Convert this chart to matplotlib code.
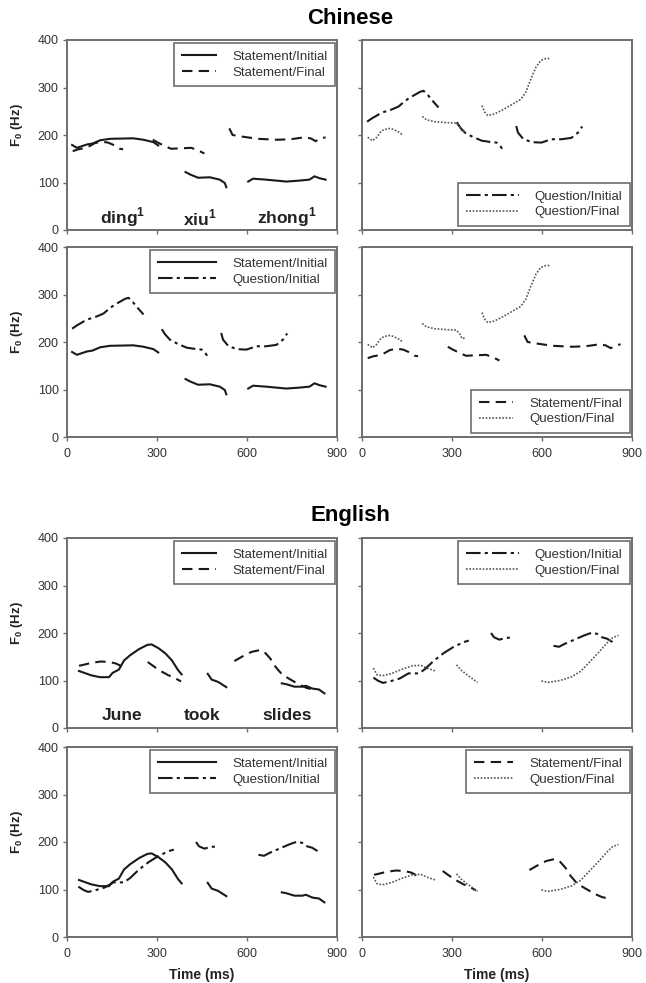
import numpy as np
import matplotlib
matplotlib.use('Agg')
import matplotlib.pyplot as plt

## fonts (Arial-like) incl. mathtext for F0 and superscripts
plt.rcParams['font.family'] = ['Liberation Sans', 'DejaVu Sans']
plt.rcParams['mathtext.fontset'] = 'custom'
plt.rcParams['mathtext.rm'] = 'Liberation Sans'
plt.rcParams['mathtext.bf'] = 'Liberation Sans:bold'

## ---------------- data (time in ms, F0 in Hz), one list per contour segment
## Chinese
cn_si_x = [[17, 33, 66, 85, 111, 144, 221, 255, 288, 304],
           [395, 410, 437, 476, 509, 526, 531],
           [604, 620, 664, 731, 775, 808, 825, 842, 862]]
cn_si_y = [[179, 173, 180, 182, 189, 192, 193, 190, 185, 178],
           [122, 117, 110, 111, 106, 99, 90],
           [102, 108, 106, 102, 104, 106, 113, 109, 106]]

cn_sf_x = [[19, 38, 65, 93, 115, 137, 159, 176, 187],
           [286, 303, 325, 347, 380, 414, 436, 458],
           [541, 552, 580, 635, 701, 745, 790, 812, 829, 845, 862]]
cn_sf_y = [[166, 170, 173, 183, 186, 184, 178, 171, 170],
           [190, 184, 177, 171, 172, 173, 168, 161],
           [214, 200, 197, 192, 190, 191, 195, 193, 187, 193, 195]]

cn_qi_x = [[17, 33, 66, 100, 122, 144, 166, 194, 205, 221, 238, 255],
           [316, 327, 343, 366, 399, 432, 449, 460, 467],
           [514, 520, 537, 565, 598, 631, 664, 698, 720, 734]]
cn_qi_y = [[228, 235, 247, 254, 260, 272, 281, 291, 293, 283, 270, 258],
           [227, 216, 205, 197, 188, 185, 184, 178, 171],
           [219, 205, 192, 185, 184, 191, 191, 194, 205, 218]]

cn_qf_x = [[19, 35, 49, 65, 87, 104, 126, 135],
           [201, 215, 242, 281, 314, 325, 334, 345],
           [400, 408, 419, 441, 475, 502, 529, 546, 563, 580, 596, 613, 626]]
cn_qf_y = [[195, 188, 195, 209, 214, 212, 205, 200],
           [239, 232, 228, 226, 225, 218, 207, 209],
           [262, 249, 241, 244, 255, 265, 275, 290, 318, 343, 357, 361, 361]]

## English
en_si_x = [[40, 58, 80, 110, 140, 152, 173, 190, 210, 240, 268, 282, 305, 328, 350, 370, 382],
           [469, 482, 504, 531],
           [716, 732, 758, 785, 796, 818, 840, 858]]
en_si_y = [[120, 116, 111, 107, 107, 116, 123, 142, 153, 166, 175, 176, 168, 157, 142, 122, 113],
           [114, 102, 97, 86],
           [94, 92, 87, 87, 89, 83, 81, 73]]

en_sf_x = [[40, 55, 80, 113, 140, 162, 176, 185, 190],
           [269, 293, 315, 338, 360, 380],
           [558, 583, 614, 642, 658, 678, 696, 718, 745, 775, 800, 815]]
en_sf_y = [[131, 133, 137, 140, 139, 136, 132, 125, 120],
           [139, 128, 119, 111, 105, 98],
           [141, 150, 160, 164, 160, 146, 128, 112, 102, 91, 84, 82]]

en_qi_x = [[38, 55, 70, 92, 125, 155, 190, 210, 240, 273, 306, 340, 356],
           [430, 440, 458, 480, 500],
           [638, 657, 675, 708, 741, 768, 784, 800, 817, 835]]
en_qi_y = [[106, 99, 95, 98, 104, 115, 115, 124, 142, 158, 171, 181, 184],
           [200, 191, 186, 190, 190],
           [173, 171, 177, 186, 195, 201, 198, 191, 188, 181]]

en_qf_x = [[38, 50, 68, 100, 135, 168, 196, 216, 245],
           [315, 330, 350, 370, 385],
           [598, 620, 660, 700, 730, 760, 790, 815, 835, 855]]
en_qf_y = [[126, 112, 110, 115, 124, 131, 132, 126, 120],
           [133, 122, 112, 103, 96],
           [99, 96, 100, 108, 120, 140, 160, 178, 190, 195]]

## syllable labels
cn_words = [r'ding$^\mathbf{1}$', r'xiu$^\mathbf{1}$', r'zhong$^\mathbf{1}$']
cn_word_x = [187, 443, 733]
en_words = ['June', 'took', 'slides']
en_word_x = [183, 450, 735]

x_ticks = [0, 300, 600, 900]
y_ticks = [0, 100, 200, 300, 400]

## ---------------- styles
styles = {'Statement/Initial': dict(ls='-', lw=1.5, color='#1a1a1a'),
          'Statement/Final': dict(ls=(0, (5, 3)), lw=1.5, color='#1a1a1a'),
          'Question/Initial': dict(ls=(0, (7, 2, 1.5, 2)), lw=1.5, color='#1a1a1a'),
          'Question/Final': dict(ls=(0, (1, 1)), lw=1.2, color='#555555')}

data = {'cn': {'Statement/Initial': (cn_si_x, cn_si_y), 'Statement/Final': (cn_sf_x, cn_sf_y),
               'Question/Initial': (cn_qi_x, cn_qi_y), 'Question/Final': (cn_qf_x, cn_qf_y)},
        'en': {'Statement/Initial': (en_si_x, en_si_y), 'Statement/Final': (en_sf_x, en_sf_y),
               'Question/Initial': (en_qi_x, en_qi_y), 'Question/Final': (en_qf_x, en_qf_y)}}

fig = plt.figure(figsize=(6.46, 9.83), dpi=100)

lefts = [67/646, 362/646]
width = 270/646
height = 190/983
bottoms = {'cn': [1-230/983, 1-437/983], 'en': [1-728/983, 1-937/983]}

## panel layout: (language, row, col, series, legend loc, handle length)
panels = [('cn', 0, 0, ['Statement/Initial', 'Statement/Final'], 'upper right', 2.6),
          ('cn', 0, 1, ['Question/Initial', 'Question/Final'], 'lower right', 4.0),
          ('cn', 1, 0, ['Statement/Initial', 'Question/Initial'], 'upper right', 4.4),
          ('cn', 1, 1, ['Statement/Final', 'Question/Final'], 'lower right', 2.6),
          ('en', 0, 0, ['Statement/Initial', 'Statement/Final'], 'upper right', 2.6),
          ('en', 0, 1, ['Question/Initial', 'Question/Final'], 'upper right', 4.0),
          ('en', 1, 0, ['Statement/Initial', 'Question/Initial'], 'upper right', 4.4),
          ('en', 1, 1, ['Statement/Final', 'Question/Final'], 'upper right', 3.0)]

for lang, row, col, series, loc, hl in panels:
    ax = fig.add_axes([lefts[col], bottoms[lang][row], width, height])
    for name in series:
        xs, ys = data[lang][name]
        for i in range(len(xs)):
            ax.plot(xs[i], ys[i], label=name if i == 0 else None, **styles[name])
    ax.set_xlim(0, 900)
    ax.set_ylim(0, 400)
    ax.set_xticks(x_ticks)
    ax.set_yticks(y_ticks)
    for sp in ax.spines.values():
        sp.set_color('#6e6e6e')
        sp.set_linewidth(1.4)
    ax.tick_params(direction='out', length=3, width=1, color='#6e6e6e',
                   labelsize=9, labelcolor='#333333', pad=3)
    if col == 1:
        ax.tick_params(labelleft=False)
    else:
        ax.set_ylabel(r'$\mathbf{F_0}$ (Hz)', fontsize=9.5, fontweight='bold', color='#222222')
        ax.yaxis.set_label_coords(-0.155, 0.55)
    if row == 0:
        ax.tick_params(labelbottom=False)
    else:
        ax.tick_params(axis='x', pad=5)
    if lang == 'en' and row == 1:
        ax.set_xlabel('Time (ms)', fontsize=10, fontweight='bold', color='#222222')
        ax.xaxis.set_label_coords(0.5, -0.165)
    ## legend in the corner of each panel
    anchor = (0.993, 0.985) if loc == 'upper right' else (0.993, 0.02)
    leg = ax.legend(loc=loc, bbox_to_anchor=anchor, borderaxespad=0, fontsize=9.5,
                    handlelength=hl, handletextpad=1.2, labelspacing=0.25,
                    fancybox=False, framealpha=1, edgecolor='#6e6e6e', borderpad=0.6)
    leg.get_frame().set_linewidth(1.2)
    for t in leg.get_texts():
        t.set_color('#333333')
    ## syllable labels under the contours
    if row == 0 and col == 0:
        words = cn_words if lang == 'cn' else en_words
        wx = cn_word_x if lang == 'cn' else en_word_x
        for w, x in zip(words, wx):
            ax.text(x, 26, w, ha='center', va='center', fontsize=12.5,
                    fontweight='bold', color='#222222')

fig.text(350/646, 1-18/983, 'Chinese', ha='center', va='center', fontsize=16, fontweight='bold')
fig.text(350/646, 1-515/983, 'English', ha='center', va='center', fontsize=16, fontweight='bold')

fig.savefig('out.png', dpi=100)
